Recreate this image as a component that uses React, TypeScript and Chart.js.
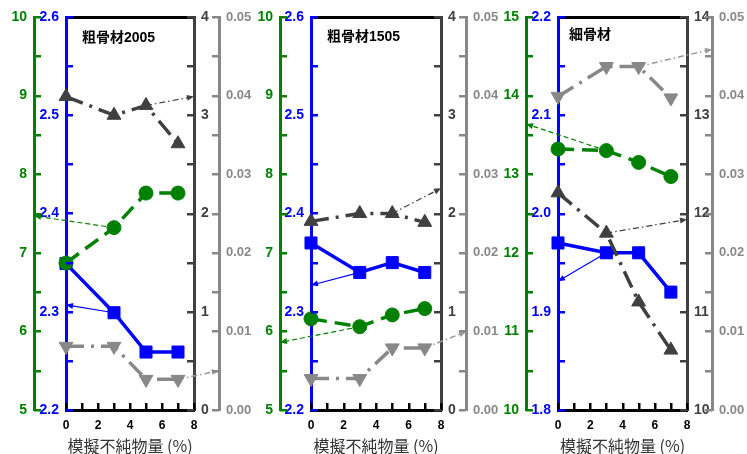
import React, { useEffect, useRef } from 'react';
import { Chart, registerables } from 'chart.js';
Chart.register(...registerables);

// ---------- data ----------
const X_PCT = [0, 3, 5, 7];
const X_TITLE = '模擬不純物量 (%)';

// Panel 1: 粗骨材2005
const P1_TITLE = '粗骨材2005';
const P1_GREEN = [6.87, 7.32, 7.76, 7.76];
const P1_BLUE = [2.349, 2.299, 2.259, 2.259];
const P1_DARK = [3.19, 3.0, 3.1, 2.71];
const P1_GRAY = [0.0081, 0.0081, 0.0039, 0.0039];
// [from point index, target x, target value]
const P1_ARROW_GREEN = [1, -2.0, 7.47];
const P1_ARROW_BLUE = [1, 0, 2.307];
const P1_ARROW_DARK = [2, 8, 3.19];
const P1_ARROW_GRAY = [3, 9.55, 0.005];
const P1_RANGE_GREEN = [5, 10];
const P1_RANGE_BLUE = [2.2, 2.6];
const P1_RANGE_DARK = [0, 4];

// Panel 2: 粗骨材1505
const P2_TITLE = '粗骨材1505';
const P2_GREEN = [6.16, 6.06, 6.21, 6.29];
const P2_BLUE = [2.37, 2.34, 2.35, 2.34];
const P2_DARK = [1.92, 2.0, 2.0, 1.91];
const P2_GRAY = [0.004, 0.004, 0.0079, 0.0079];
const P2_ARROW_GREEN = [1, -1.91, 5.86];
const P2_ARROW_BLUE = [1, 0, 2.327];
const P2_ARROW_DARK = [2, 8, 2.257];
const P2_ARROW_GRAY = [3, 9.54, 0.00996];
const P2_RANGE_GREEN = [5, 10];
const P2_RANGE_BLUE = [2.2, 2.6];
const P2_RANGE_DARK = [0, 4];

// Panel 3: 細骨材
const P3_TITLE = '細骨材';
const P3_GREEN = [13.32, 13.3, 13.15, 12.97];
const P3_BLUE = [1.97, 1.96, 1.96, 1.92];
const P3_DARK = [12.21, 11.8, 11.1, 10.61];
const P3_GRAY = [0.0399, 0.0437, 0.0437, 0.0397];
const P3_ARROW_GREEN = [1, -1.98, 13.64];
const P3_ARROW_BLUE = [1, 0, 1.931];
const P3_ARROW_DARK = [1, 8, 11.94];
const P3_ARROW_GRAY = [2, 9.55, 0.0459];
const P3_RANGE_GREEN = [10, 15];
const P3_RANGE_BLUE = [1.8, 2.2];
const P3_RANGE_DARK = [10, 14];

const RANGE_GRAY = [0, 0.05];

// ---------- styles ----------
const GREEN = '#008000';
const BLUE = '#0000ff';
const DARK = '#404040';
const GRAY = '#888888';
const NUM_FONT = "'Liberation Sans', Arial, sans-serif";
const JP_FONT = "'Noto Sans CJK JP', sans-serif";
const MIX_FONT = "'Liberation Sans', 'Noto Sans CJK JP', sans-serif";

const AXIS_COLORS: Record<string, string> = { x: '#000000', yG: GREEN, yB: BLUE, yD: DARK, yL: GRAY };

function drawInwardTicks(chart: any) {
  const ctx = chart.ctx;
  const L = 7;
  ctx.save();
  Object.keys(AXIS_COLORS).forEach((id) => {
    const s = chart.scales[id];
    if (!s) return;
    ctx.fillStyle = AXIS_COLORS[id];
    const pos = s.options.position;
    s.ticks.forEach((t: any) => {
      const p = Math.round(s.getPixelForValue(t.value));
      if (pos === 'left') ctx.fillRect(s.right, p - 1, L, 2.5);
      else if (pos === 'right') ctx.fillRect(s.left - L, p - 1, L, 2.5);
      else ctx.fillRect(p - 1, s.top - L, 2.5, L);
    });
  });
  ctx.restore();
}

const overlayPlugin = {
  id: 'overlay',
  afterDatasetsDraw(chart: any) {
    const ctx = chart.ctx;
    // arrow heads
    chart.data.datasets.forEach((ds: any, i: number) => {
      if (!ds.isArrow) return;
      const pts = chart.getDatasetMeta(i).data;
      if (pts.length < 2) return;
      const a = pts[pts.length - 2];
      const b = pts[pts.length - 1];
      const ang = Math.atan2(b.y - a.y, b.x - a.x);
      const L = 7, W = 3;
      ctx.save();
      ctx.fillStyle = ds.borderColor;
      ctx.beginPath();
      ctx.moveTo(b.x, b.y);
      ctx.lineTo(b.x - L * Math.cos(ang) + W * Math.sin(ang), b.y - L * Math.sin(ang) - W * Math.cos(ang));
      ctx.lineTo(b.x - L * Math.cos(ang) - W * Math.sin(ang), b.y - L * Math.sin(ang) + W * Math.cos(ang));
      ctx.closePath();
      ctx.fill();
      ctx.restore();
    });
    // inward tick marks
    drawInwardTicks(chart);
    // panel title
    const o = chart.options.plugins.overlay;
    if (o && o.text) {
      ctx.save();
      ctx.font = `bold 14px ${MIX_FONT}`;
      ctx.fillStyle = '#000';
      ctx.textBaseline = 'middle';
      ctx.textAlign = 'left';
      ctx.fillText(o.text, chart.chartArea.left + o.dx, o.y);
      ctx.restore();
    }
  },
};

function yScale(color: string, range: number[], step: number, every: number, dec: number,
  width: number, position: string, weight: number, size: number) {
  return {
    type: 'linear',
    position,
    weight,
    min: range[0],
    max: range[1],
    afterFit: (s: any) => { s.width = width; },
    border: { display: true, color, width: 3 },
    grid: { display: true, drawOnChartArea: false, drawTicks: false, tickLength: 0 },
    ticks: {
      stepSize: step,
      autoSkip: false,
      maxTicksLimit: 40,
      padding: 7,
      color,
      font: { family: NUM_FONT, size, weight: 'bold' },
      callback: (v: number) => {
        const k = Math.round(v / every);
        return Math.abs(v - k * every) < every * 1e-3 ? Number(v).toFixed(dec) : '';
      },
    },
  };
}

function lineSet(vals: number[], axis: string, color: string, style: string, radius: number,
  dash: number[], rotation = 0) {
  return {
    type: 'line',
    data: X_PCT.map((x, i) => ({ x, y: vals[i] })),
    yAxisID: axis,
    borderColor: color,
    backgroundColor: color,
    borderWidth: 3.5,
    borderDash: dash,
    pointStyle: style,
    pointRadius: radius,
    pointRotation: rotation,
    pointBackgroundColor: color,
    pointBorderColor: color,
    pointBorderWidth: 1,
    clip: false,
    order: 0,
  };
}

function arrowSet(vals: number[], arrow: number[], axis: string, color: string, dash: number[], w = 1.2) {
  const i = arrow[0];
  return {
    type: 'line',
    isArrow: true,
    data: [{ x: X_PCT[i], y: vals[i] }, { x: arrow[1], y: arrow[2] }],
    yAxisID: axis,
    borderColor: color,
    borderWidth: w,
    borderDash: dash,
    pointRadius: 0,
    clip: false,
    order: 5,
  };
}

type PanelCfg = {
  title: string; titleDx: number; titleY: number;
  left: number; width: number; widths: number[];
  green: number[]; blue: number[]; dark: number[]; gray: number[];
  aGreen: number[]; aBlue: number[]; aDark: number[]; aGray: number[];
  rGreen: number[]; rBlue: number[]; rDark: number[];
};

const PANELS: PanelCfg[] = [
  {
    title: P1_TITLE, titleDx: 16, titleY: 38, left: 0, width: 252, widths: [34, 32, 25, 33],
    green: P1_GREEN, blue: P1_BLUE, dark: P1_DARK, gray: P1_GRAY,
    aGreen: P1_ARROW_GREEN, aBlue: P1_ARROW_BLUE, aDark: P1_ARROW_DARK, aGray: P1_ARROW_GRAY,
    rGreen: P1_RANGE_GREEN, rBlue: P1_RANGE_BLUE, rDark: P1_RANGE_DARK,
  },
  {
    title: P2_TITLE, titleDx: 16, titleY: 37, left: 252, width: 248, widths: [28, 31, 25, 34],
    green: P2_GREEN, blue: P2_BLUE, dark: P2_DARK, gray: P2_GRAY,
    aGreen: P2_ARROW_GREEN, aBlue: P2_ARROW_BLUE, aDark: P2_ARROW_DARK, aGray: P2_ARROW_GRAY,
    rGreen: P2_RANGE_GREEN, rBlue: P2_RANGE_BLUE, rDark: P2_RANGE_DARK,
  },
  {
    title: P3_TITLE, titleDx: 11, titleY: 35, left: 500, width: 247, widths: [26, 32, 25, 35],
    green: P3_GREEN, blue: P3_BLUE, dark: P3_DARK, gray: P3_GRAY,
    aGreen: P3_ARROW_GREEN, aBlue: P3_ARROW_BLUE, aDark: P3_ARROW_DARK, aGray: P3_ARROW_GRAY,
    rGreen: P3_RANGE_GREEN, rBlue: P3_RANGE_BLUE, rDark: P3_RANGE_DARK,
  },
];

function Panel({ cfg }: { cfg: PanelCfg }) {
  const ref = useRef<HTMLCanvasElement | null>(null);
  useEffect(() => {
    if (!ref.current) return;
    const DASHDOT = [18, 7, 3, 7];
    const chart = new Chart(ref.current, {
      type: 'line',
      data: {
        datasets: [
          lineSet(cfg.dark, 'yD', DARK, 'triangle', 8, DASHDOT),
          lineSet(cfg.gray, 'yL', GRAY, 'triangle', 8, DASHDOT, 180),
          lineSet(cfg.green, 'yG', GREEN, 'circle', 7, [16, 8]),
          lineSet(cfg.blue, 'yB', BLUE, 'rect', 8.5, []),
          arrowSet(cfg.green, cfg.aGreen, 'yG', GREEN, [5, 3]),
          arrowSet(cfg.blue, cfg.aBlue, 'yB', BLUE, [], 1.2),
          arrowSet(cfg.dark, cfg.aDark, 'yD', DARK, [6, 3, 1.5, 3]),
          arrowSet(cfg.gray, cfg.aGray, 'yL', '#999999', [6, 3, 1.5, 3], 1.5),
        ] as any,
      },
      options: {
        animation: false,
        responsive: false,
        layout: { padding: { top: 17, bottom: 0, left: 0, right: 0 } },
        plugins: {
          legend: { display: false },
          tooltip: { enabled: false },
          overlay: { text: cfg.title, dx: cfg.titleDx, y: cfg.titleY },
        } as any,
        scales: {
          x: {
            type: 'linear',
            position: 'bottom',
            min: 0,
            max: 8,
            afterFit: (s: any) => { s.height = 44; },
            border: { display: true, color: '#000', width: 3 },
            grid: { display: true, drawOnChartArea: false, drawTicks: false, tickLength: 0 },
            ticks: {
              stepSize: 1,
              autoSkip: false,
              maxRotation: 0,
              padding: 8,
              color: '#000',
              font: { family: NUM_FONT, size: 12, weight: 'bold' },
              callback: (v: number) => (v % 2 === 0 ? String(v) : ''),
            },
            title: {
              display: true,
              text: X_TITLE,
              color: '#333',
              font: { family: JP_FONT, size: 16 },
              padding: { top: 0, bottom: -2 },
            },
          },
          xTop: {
            type: 'linear',
            position: 'top',
            min: 0,
            max: 8,
            afterFit: (s: any) => { s.height = 0; },
            border: { display: true, color: '#000', width: 3 },
            grid: { drawOnChartArea: false, drawTicks: false },
            ticks: { display: false },
          },
          yG: yScale(GREEN, cfg.rGreen, 0.5, 1, 0, cfg.widths[0], 'left', 2, 14),
          yB: yScale(BLUE, cfg.rBlue, 0.05, 0.1, 1, cfg.widths[1], 'left', 1, 14),
          yD: yScale(DARK, cfg.rDark, 0.5, 1, 0, cfg.widths[2], 'right', 1, 14),
          yL: yScale(GRAY, RANGE_GRAY, 0.005, 0.01, 2, cfg.widths[3], 'right', 2, 13),
        } as any,
      },
      plugins: [overlayPlugin],
    } as any);
    return () => chart.destroy();
  }, [cfg]);
  return (
    <canvas
      ref={ref}
      width={cfg.width}
      height={454}
      style={{ position: 'absolute', left: cfg.left, top: 0, width: cfg.width, height: 454 }}
    />
  );
}

export default function App() {
  return (
    <div style={{ position: 'fixed', left: 0, top: 0, width: 747, height: 454, overflow: 'hidden', background: '#fff' }}>
      {PANELS.map((p, i) => (
        <Panel key={i} cfg={p} />
      ))}
    </div>
  );
}
